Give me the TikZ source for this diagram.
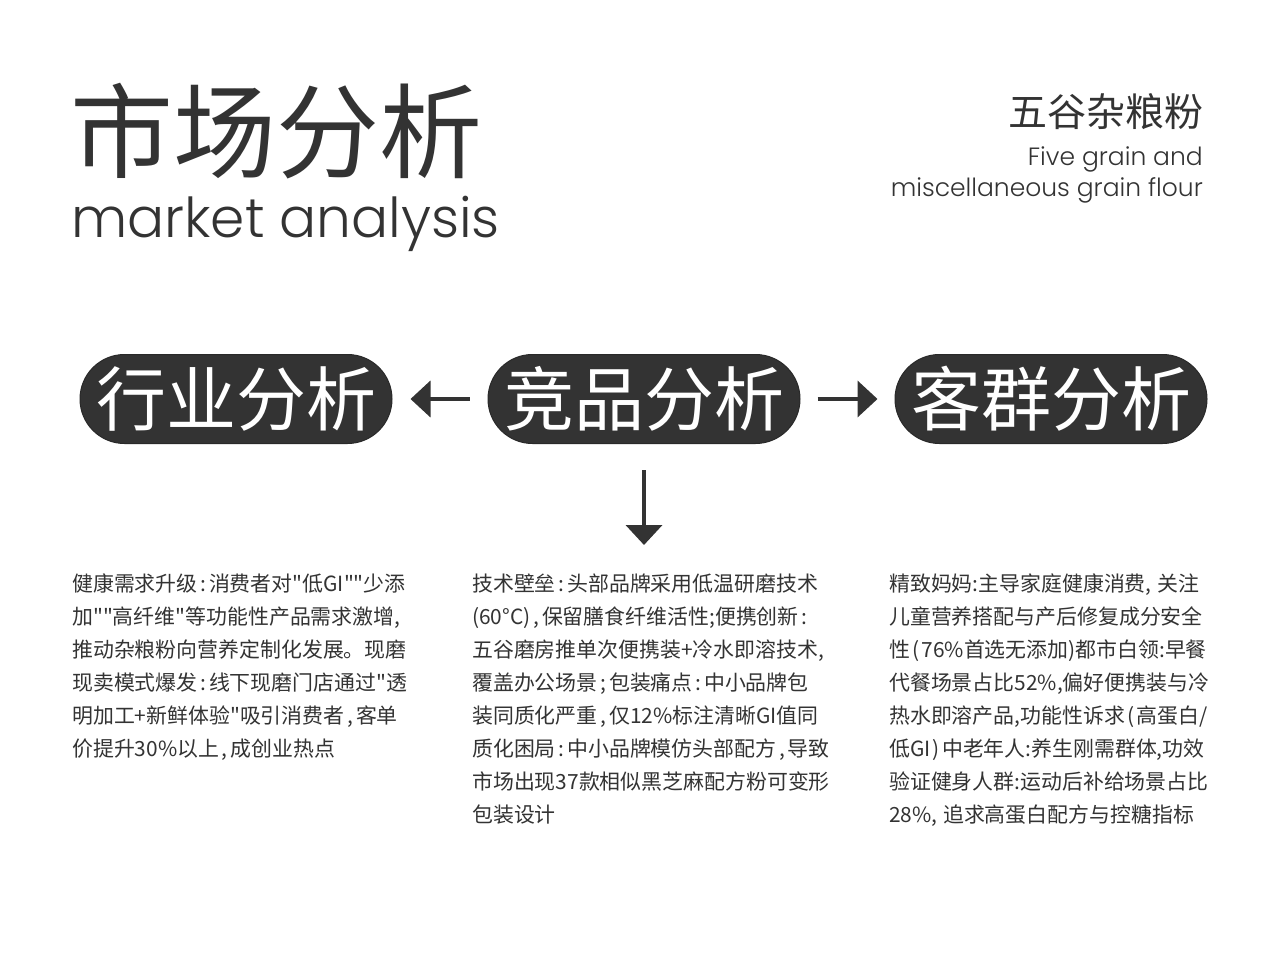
\documentclass[tikz,border=0pt]{standalone}
\usepackage{fontspec}
\setmainfont{Poppins Light}
\newfontfamily\cjk{Noto Sans CJK SC}
\usepackage{tikz}
\usetikzlibrary{arrows.meta}
\definecolor{ink}{HTML}{333333}
% wide punctuation, as set in the notes
\newcommand{\wpt}[1]{\makebox[0.55em]{#1}}
\newcommand{\wcm}{\makebox[0.55em][l]{,}}
\tikzset{
    pill/.style={draw=ink!80!black, fill=ink, text=white, line width=1pt,
        minimum width=312pt, minimum height=89pt, rounded corners=44.5pt,
        inner sep=0pt, font=\cjk\fontsize{70}{70}\selectfont},
    link/.style={draw=ink, line width=4pt, -{Triangle[width=36pt,length=20pt]}},
    body/.style={anchor=north west, align=left, inner sep=0pt, text=ink,
        font=\cjk\fontsize{20.9}{33}\selectfont},
}

\begin{document}
\begin{tikzpicture}[x=1pt,y=-1pt]
\useasboundingbox[fill=white] (0,0) rectangle (1280,960);

% title block
\node[anchor=west, inner sep=0pt, text=ink, font=\cjk\fontsize{103}{103}\selectfont] (title) at (70,131) {市场分析};
\node[anchor=base west, inner sep=0pt, text=ink, font=\fontsize{55}{55}\selectfont] (subtitle) at (71,237) {market analysis};

\node[anchor=east, inner sep=0pt, text=ink, font=\cjk\fontsize{39}{39}\selectfont] (product) at (1204,112) {五谷杂粮粉};
\node[anchor=base east, inner sep=0pt, text=ink, font=\fontsize{25}{30}\selectfont] (en1) at (1203,166) {Five grain and};
\node[anchor=base east, inner sep=0pt, text=ink, font=\fontsize{25}{30}\selectfont] (en2) at (1203,197) {miscellaneous grain flour};

% the three analyses
\node[pill] (industry) at (236,399) {行业分析};
\node[pill] (rival) at (644,399) {竞品分析};
\node[pill] (client) at (1051,399) {客群分析};

\draw[link, shorten <=18pt, shorten >=18pt] (rival.west) -- (industry.east);
\draw[link, shorten <=17pt, shorten >=17pt] (rival.east) -- (client.west);
\coordinate (rivaltip) at (644,545);
\draw[link, shorten <=26pt] (rival.south) -- (rivaltip);

% notes
\node[body] (industrytext) at (72,574) {健康需求升级\wpt{:}消费者对"低GI""少添\\
加""高纤维"等功能性产品需求激增\wcm\\
推动杂粮粉向营养定制化发展。现磨\\
现卖模式爆发\wpt{:}线下现磨门店通过"透\\
明加工+新鲜体验"吸引消费者\wpt{,}客单\\
价提升30\%以上\wpt{,}成创业热点};

\node[body] (rivaltext) at (472,574) {技术壁垒\wpt{:}头部品牌采用低温研磨技术\\
(60°C)\wpt{,}保留膳食纤维活性;便携创新\wpt{:}\\
五谷磨房推单次便携装+冷水即溶技术,\\
覆盖办公场景\wpt{;}包装痛点\wpt{:}中小品牌包\\
装同质化严重\wpt{,}仅12\%标注清晰GI值同\\
质化困局\wpt{:}中小品牌模仿头部配方\wpt{,}导致\\
市场出现37款相似黑芝麻配方粉可变形\\
包装设计};

\node[body] (clienttext) at (889,574) {精致妈妈:主导家庭健康消费\wcm 关注\\
儿童营养搭配与产后修复成分安全\\
性\wpt{(}76\%首选无添加)都市白领:早餐\\
代餐场景占比52\%,偏好便携装与冷\\
热水即溶产品,功能性诉求\wpt{(}高蛋白/\\
低GI\wpt{)}中老年人:养生刚需群体,功效\\
验证健身人群:运动后补给场景占比\\
28\%\wcm 追求高蛋白配方与控糖指标};
\end{tikzpicture}
\end{document}
